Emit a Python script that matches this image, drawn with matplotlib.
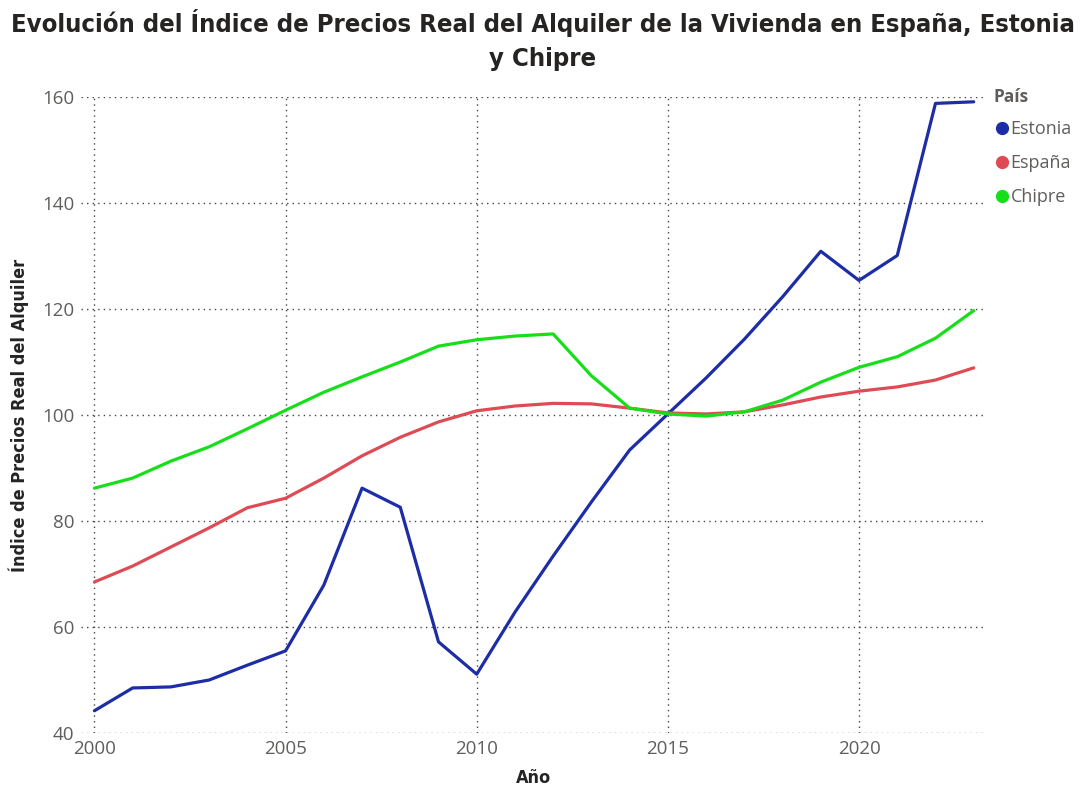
import matplotlib
matplotlib.use("Agg")
import matplotlib.pyplot as plt
from matplotlib import font_manager as fm
from matplotlib.lines import Line2D

years = list(range(2000, 2024))
estonia = [44.2, 48.5, 48.7, 50.0, 52.8, 55.5, 67.9, 86.2, 82.6, 57.2, 51.1, 62.8,
           73.4, 83.6, 93.4, 100.2, 107.0, 114.3, 122.3, 130.9, 125.4, 130.1, 158.8, 159.1]
espana = [68.5, 71.5, 75.1, 78.7, 82.5, 84.3, 88.1, 92.3, 95.8, 98.7, 100.8, 101.7,
          102.2, 102.1, 101.3, 100.4, 100.2, 100.6, 101.9, 103.4, 104.5, 105.3, 106.6, 108.9]
chipre = [86.2, 88.1, 91.3, 94.0, 97.4, 100.9, 104.3, 107.2, 110.0, 113.0, 114.2, 114.9,
          115.3, 107.4, 101.3, 100.2, 99.8, 100.6, 102.8, 106.2, 109.0, 111.0, 114.5, 119.7]
series_names = ["Estonia", "España", "Chipre"]
x_ticks = [2000, 2005, 2010, 2015, 2020]
y_ticks = [40, 60, 80, 100, 120, 140, 160]

colors = ["#1C2DA6", "#DE4B54", "#16DF1A"]

names = {f.name for f in fm.fontManager.ttflist}
body_font = "Open Sans" if "Open Sans" in names else "DejaVu Sans"
plt.rcParams['font.family'] = [body_font, 'DejaVu Sans']

# find a condensed/narrow bold font for the title
cond = None
for f in fm.fontManager.ttflist:
    fn = f.fname.lower()
    if ('condensed' in fn or 'narrow' in fn) and ('bold' in fn or f.weight in ('bold', 700, 600, 'semibold')) \
            and 'oblique' not in fn and 'italic' not in fn:
        cond = f.fname
        break
if cond is not None:
    title_fp = fm.FontProperties(fname=cond)
else:
    title_fp = fm.FontProperties(family=[body_font, 'DejaVu Sans'], weight='bold', stretch='condensed')

fig = plt.figure(figsize=(10.85, 7.87), dpi=100)
ax = fig.add_axes([0.0747, 0.0686, 0.8333, 0.8081])

for vals, c, n in zip([estonia, espana, chipre], colors, series_names):
    ax.plot(years, vals, color=c, lw=2.3, label=n, solid_capstyle='round', zorder=3)

ax.set_xlim(1999.65, 2023.3)
ax.set_ylim(40, 160)
ax.set_xticks(x_ticks)
ax.set_yticks(y_ticks)
ax.grid(True, linestyle=(0, (1, 3)), color="#444444", lw=1.0)
for s in ax.spines.values():
    s.set_visible(False)
ax.tick_params(length=0, labelsize=13.5, labelcolor="#605E5C", pad=5)

lab_fp = title_fp.copy()
lab_fp.set_size(13)
ax.set_xlabel("Año", fontproperties=lab_fp, color="#252423", labelpad=8)
ax.set_ylabel("Índice de Precios Real del Alquiler", fontproperties=lab_fp,
              color="#252423", labelpad=9)

tfp = title_fp.copy()
tfp.set_size(19)
title = fig.text(0.5, 0.988, "Evolución del Índice de Precios Real del Alquiler de la Vivienda en España, Estonia\ny Chipre",
                 ha='center', va='top', fontproperties=tfp, color="#252423", linespacing=1.5)
fig.canvas.draw()
r = fig.canvas.get_renderer()
w = title.get_window_extent(r).width
if w > 0:
    tfp.set_size(19 * 1065.0 / w)
    title.set_fontproperties(tfp)

handles = [Line2D([], [], marker='o', ls='', color=c, markersize=8.5) for c in colors]
leg = fig.legend(handles, series_names, title="País", loc='upper left',
                 bbox_to_anchor=(0.909, 0.897), frameon=False, fontsize=13,
                 handletextpad=0.05, labelspacing=0.88, borderaxespad=0, handlelength=0.9)
leg.get_title().set_fontweight('bold')
leg.get_title().set_fontsize(12.5)
leg.get_title().set_color("#605E5C")
leg._legend_box.align = "left"
leg._legend_box.sep = 10
for t in leg.get_texts():
    t.set_color("#605E5C")

fig.savefig("out.png", dpi=100)
